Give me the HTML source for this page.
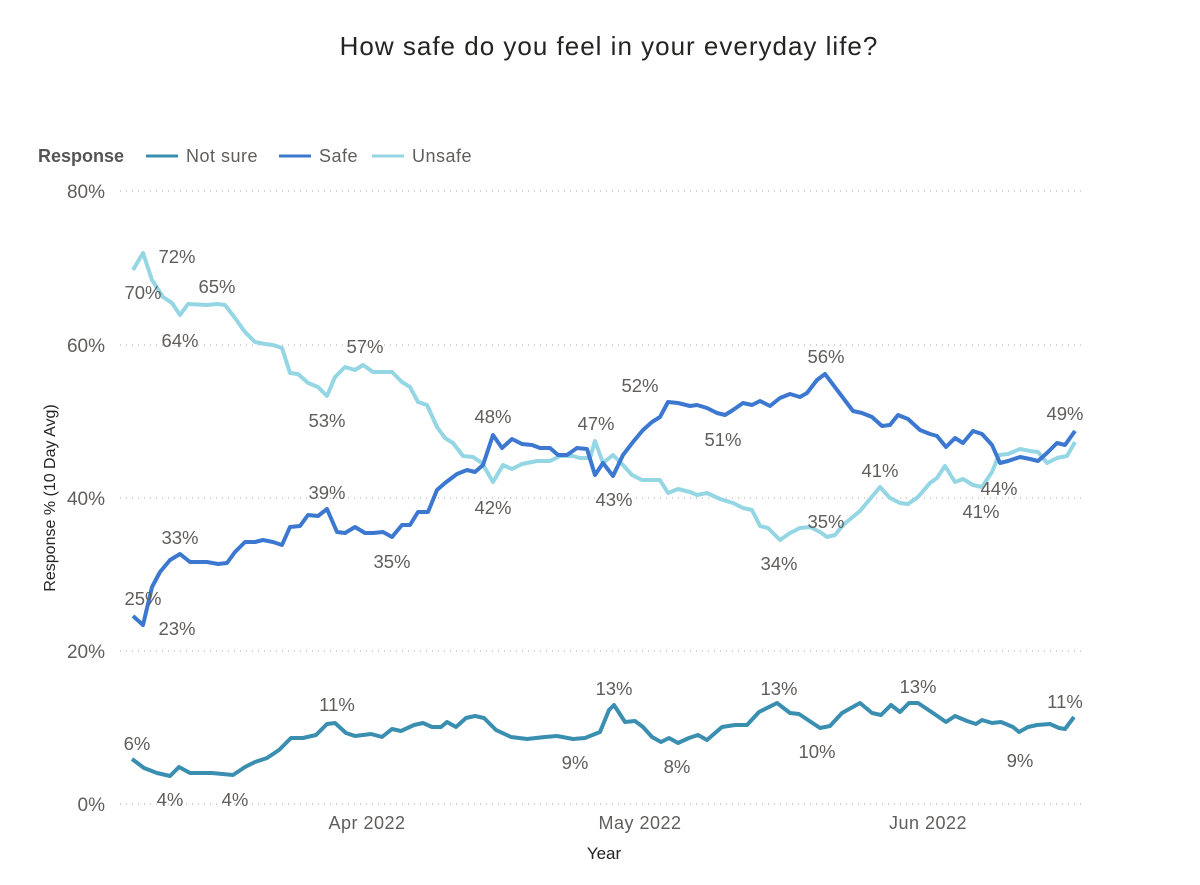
<!DOCTYPE html><html><head><meta charset="utf-8"><style>body{margin:0;background:#fff}svg{display:block}text{font-family:"Liberation Sans",sans-serif}</style></head><body>
<svg width="1200" height="885" viewBox="0 0 1200 885">
<text x="609" y="55" text-anchor="middle" font-size="26" letter-spacing="1" fill="#252423">How safe do you feel in your everyday life?</text>
<g font-size="18" fill="#605e5c">
<text x="38" y="162" font-weight="bold" fill="#555">Response</text>
<line x1="146" y1="156" x2="178" y2="156" stroke="#3a8fb0" stroke-width="3"/><text x="186" y="162" letter-spacing="0.5">Not sure</text>
<line x1="279" y1="156" x2="311" y2="156" stroke="#3c78d0" stroke-width="3"/><text x="319" y="162" letter-spacing="0.5">Safe</text>
<line x1="372" y1="156" x2="404" y2="156" stroke="#94d6e4" stroke-width="3"/><text x="412" y="162" letter-spacing="0.5">Unsafe</text>
</g>
<g stroke="#c8c6c4" stroke-dasharray="1,5" stroke-width="1.5">
<line x1="120" y1="191" x2="1085" y2="191"/><line x1="120" y1="345" x2="1085" y2="345"/><line x1="120" y1="498" x2="1085" y2="498"/><line x1="120" y1="651" x2="1085" y2="651"/><line x1="120" y1="804" x2="1085" y2="804"/></g>
<g font-size="19" fill="#605e5c" text-anchor="end">
<text x="105" y="198">80%</text><text x="105" y="352">60%</text><text x="105" y="505">40%</text><text x="105" y="658">20%</text><text x="105" y="811">0%</text></g>
<g font-size="18" fill="#605e5c" text-anchor="middle" letter-spacing="0.5">
<text x="367" y="829">Apr 2022</text><text x="640" y="829">May 2022</text><text x="928" y="829">Jun 2022</text></g>
<text x="604" y="859" text-anchor="middle" font-size="17" fill="#252423">Year</text>
<text transform="translate(55,498) rotate(-90)" text-anchor="middle" font-size="16" fill="#252423">Response % (10 Day Avg)</text>
<g fill="none" stroke-width="4" stroke-linejoin="round">
<polyline stroke="#94d6e4" points="133,270 143,253 152,280 163,297 172,303 180,315 188,304 207,305 217,304 225,305 235,318 245,332 255,342 265,344 273,345 282,348 290,373 298,374 308,383 318,387 327,396 335,377 345,367 355,370 363,365 373,372 392,372 402,382 410,387 418,402 427,405 437,427 445,438 453,443 463,456 473,457 482,463 493,482 503,465 512,469 522,464 537,461 550,461 560,456 573,456 580,458 590,458 595,441 603,463 613,455 623,465 632,475 642,480 660,480 668,493 678,489 690,492 697,495 707,493 720,499 733,503 743,508 752,510 760,526 768,528 780,540 790,533 800,528 810,527 820,532 827,537 835,535 843,525 860,511 880,487 890,498 900,503 908,504 918,497 930,483 937,478 945,466 955,482 963,479 973,485 982,487 992,472 999,455 1008,454 1020,449 1030,451 1038,452 1047,463 1057,458 1067,456 1075,442"/>
<polyline stroke="#3c78d0" points="133,616 143,625 152,587 160,572 170,560 180,554 190,562 207,562 218,564 227,563 235,552 245,542 255,542 263,540 273,542 282,545 290,527 300,526 308,515 318,516 327,509 337,532 345,533 355,527 365,533 373,533 383,532 392,537 402,525 410,525 418,512 428,512 437,490 445,483 457,474 467,470 475,472 483,465 493,435 502,448 512,439 522,444 532,445 540,448 550,448 558,455 567,455 577,448 587,449 595,475 603,463 613,476 623,455 633,442 643,430 652,422 660,417 668,402 678,403 690,406 697,405 707,408 717,413 725,415 733,410 743,403 752,405 760,401 770,406 780,398 790,394 800,397 807,393 817,380 825,374 853,411 862,413 872,417 882,426 890,425 898,415 908,419 920,430 930,434 937,436 946,447 955,438 963,443 973,431 982,434 992,445 1000,463 1008,461 1020,457 1030,459 1038,461 1047,453 1057,443 1065,445 1075,431"/>
<polyline stroke="#3a8fb0" points="132,759 144,768 157,773 170,776 179,767 190,773 212,773 233,775 245,767 255,762 267,758 279,750 291,738 303,738 316,735 327,724 335,723 346,733 355,736 371,734 382,737 392,729 401,731 414,725 423,723 432,727 441,727 447,722 456,727 466,718 475,716 484,718 496,730 511,737 527,739 545,737 557,736 573,739 585,738 600,732 609,710 614,705 625,722 635,721 643,727 652,737 661,742 669,738 678,743 689,738 698,735 707,740 722,727 735,725 747,725 759,712 777,703 790,713 799,714 808,720 820,728 830,726 842,713 860,703 872,713 881,715 891,705 900,712 909,703 918,703 933,713 946,722 955,716 967,721 976,724 982,720 992,723 1001,722 1013,727 1019,732 1028,727 1037,725 1050,724 1059,728 1065,729 1074,717"/>
</g>
<g font-size="18.5" fill="#605e5c" text-anchor="middle">
<text x="143" y="299">70%</text><text x="177" y="263">72%</text><text x="217" y="293">65%</text><text x="180" y="347">64%</text><text x="365" y="353">57%</text><text x="327" y="427">53%</text><text x="493" y="423">48%</text><text x="493" y="514">42%</text><text x="596" y="430">47%</text><text x="614" y="506">43%</text><text x="640" y="392">52%</text><text x="723" y="446">51%</text><text x="826" y="363">56%</text><text x="779" y="570">34%</text><text x="826" y="528">35%</text><text x="880" y="477">41%</text><text x="999" y="495">44%</text><text x="981" y="518">41%</text><text x="1065" y="420">49%</text><text x="327" y="499">39%</text><text x="180" y="544">33%</text><text x="392" y="568">35%</text><text x="143" y="605">25%</text><text x="177" y="635">23%</text><text x="137" y="750">6%</text><text x="337" y="711">11%</text><text x="170" y="806">4%</text><text x="235" y="806">4%</text><text x="575" y="769">9%</text><text x="614" y="695">13%</text><text x="677" y="773">8%</text><text x="779" y="695">13%</text><text x="817" y="758">10%</text><text x="918" y="693">13%</text><text x="1020" y="767">9%</text><text x="1065" y="708">11%</text>
</g>
</svg></body></html>
